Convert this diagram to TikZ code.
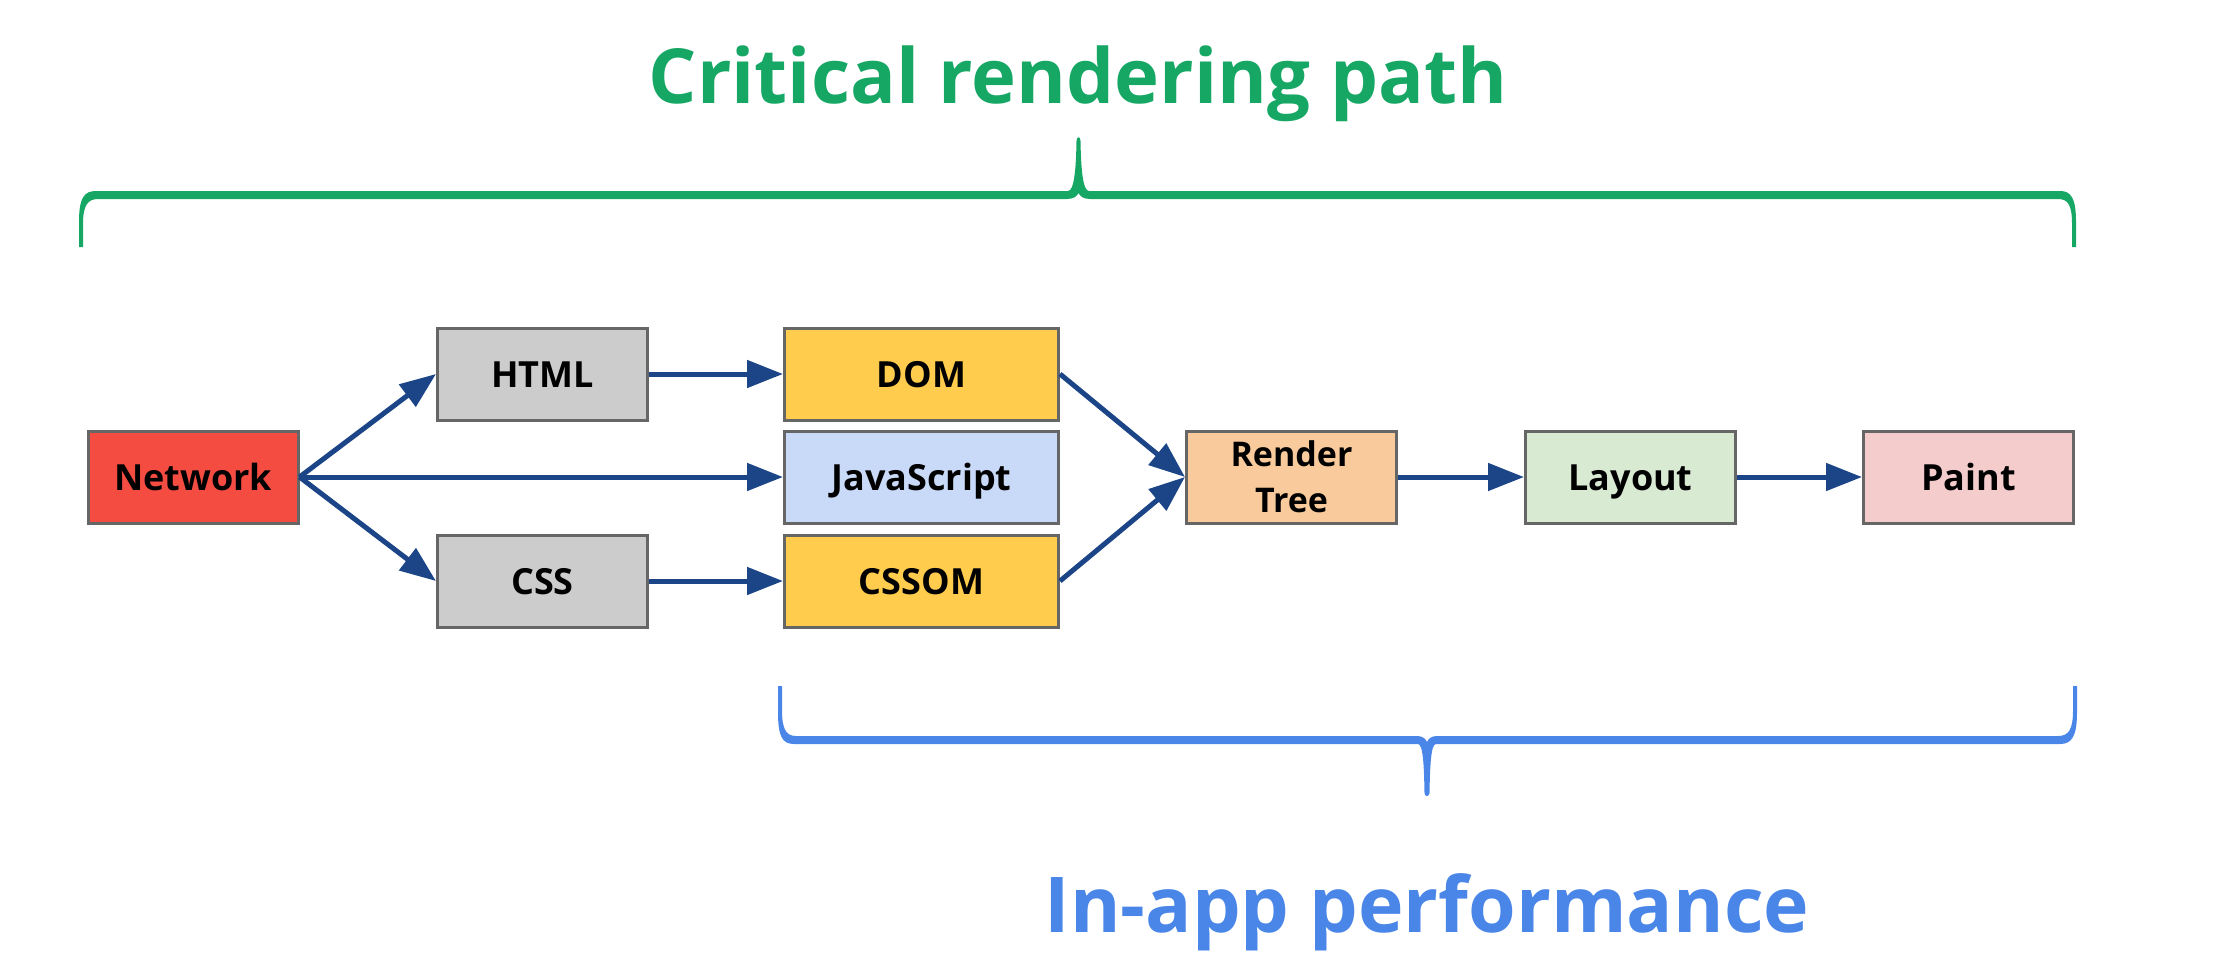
\documentclass[tikz,border=0pt]{standalone}
\usepackage{fontspec}
\setmainfont{Open Sans}
\usetikzlibrary{arrows.meta,calc}
\definecolor{cgreen}{HTML}{16A765}
\definecolor{cblue}{HTML}{4A86E8}
\definecolor{cborder}{HTML}{666666}
\definecolor{carrow}{HTML}{1C4587}
\definecolor{cred}{HTML}{F54C42}
\definecolor{cgray}{HTML}{CCCCCC}
\definecolor{cyellow}{HTML}{FFCC4D}
\definecolor{clblue}{HTML}{C9DAF8}
\definecolor{corange}{HTML}{F9CB9C}
\definecolor{clgreen}{HTML}{D9EAD3}
\definecolor{cpink}{HTML}{F4CCCC}
\begin{document}
\begin{tikzpicture}[x=1pt,y=-1pt,
  box/.style={draw=cborder, line width=3pt, inner sep=0pt, minimum height=92pt,
    font=\fontsize{36}{46}\selectfont\bfseries, text=black, text height=26pt, text depth=0pt},
  narrowbox/.style={box, minimum width=210pt},
  widebox/.style={box, minimum width=274pt},
  arr/.style={draw=carrow, line width=5pt, -{Triangle[length=36pt,width=27pt]}},
  bigtitle/.style={font=\fontsize{76}{90}\selectfont\bfseries, anchor=base, inner sep=0pt}
]
\useasboundingbox (0,0) rectangle (2236,958);

% titles
\node[bigtitle, text=cgreen] (crp) at (1078,103) {Critical rendering path};
\node[bigtitle, text=cblue, font=\fontsize{77}{90}\selectfont\bfseries] (iap) at (1427,932) {In-app performance};

% green brace
\fill[cgreen] (79,247) -- (79,222) .. controls (79,198) and (84,191) .. (96,191)
  -- (1068,191) .. controls (1074,191) and (1076,170) .. (1076.5,141)
  .. controls (1076.5,136) and (1080.5,136) .. (1080.5,141)
  .. controls (1081,170) and (1083,191) .. (1089,191)
  -- (2060,191) .. controls (2071,191) and (2076,198) .. (2076,222)
  -- (2076,247) -- (2072,247) -- (2072,224) .. controls (2072,205) and (2068,199) .. (2058,199)
  -- (1090,199) .. controls (1083,199) and (1080,196) .. (1078.5,193)
  .. controls (1077,196) and (1074,199) .. (1067,199)
  -- (98,199) .. controls (88,199) and (83,205) .. (83,224)
  -- (83,247) -- cycle;

% blue brace
\fill[cblue] (778,686) -- (778,712) .. controls (778,736) and (782,744) .. (794,744)
  -- (1418,744) .. controls (1423,744) and (1424,765) .. (1424.5,793)
  .. controls (1424.5,797) and (1429.5,797) .. (1429.5,793)
  .. controls (1430,765) and (1431,744) .. (1436,744)
  -- (2060,744) .. controls (2072,744) and (2077,736) .. (2077,712)
  -- (2077,686) -- (2073,686) -- (2073,710) .. controls (2073,729) and (2069,736) .. (2058,736)
  -- (1437,736) .. controls (1431,736) and (1428.5,739) .. (1427,742)
  .. controls (1425.5,739) and (1423,736) .. (1417,736)
  -- (796,736) .. controls (786,736) and (782,729) .. (782,710)
  -- (782,686) -- cycle;

% boxes
\node[narrowbox, fill=cred] (net) at (193,477) {Network};
\node[narrowbox, fill=cgray] (html) at (542.5,374) {HTML};
\node[narrowbox, fill=cgray] (css) at (542.5,581) {CSS};
\node[widebox, fill=cyellow] (dom) at (921.5,374) {DOM};
\node[widebox, fill=clblue] (js) at (921.5,477) {JavaScript};
\node[widebox, fill=cyellow] (cssom) at (921.5,581) {CSSOM};
\node[narrowbox, fill=corange, align=center, text height=, text depth=, font=\fontsize{34}{46}\selectfont\bfseries] (rt) at (1291.5,477) {Render\\Tree};
\node[narrowbox, fill=clgreen] (lay) at (1630.5,477) {Layout};
\node[narrowbox, fill=cpink] (paint) at (1968.5,477) {Paint};

% connectors
\draw[arr] (net.east) -- (html.west);
\draw[arr] (net.east) -- (js.west);
\draw[arr] (net.east) -- (css.west);
\draw[arr] (html.east) -- (dom.west);
\draw[arr] (css.east) -- (cssom.west);
\draw[arr] (dom.east) -- (rt.west);
\draw[arr] (cssom.east) -- (rt.west);
\draw[arr] (rt.east) -- (lay.west);
\draw[arr] (lay.east) -- (paint.west);
\end{tikzpicture}
\end{document}
